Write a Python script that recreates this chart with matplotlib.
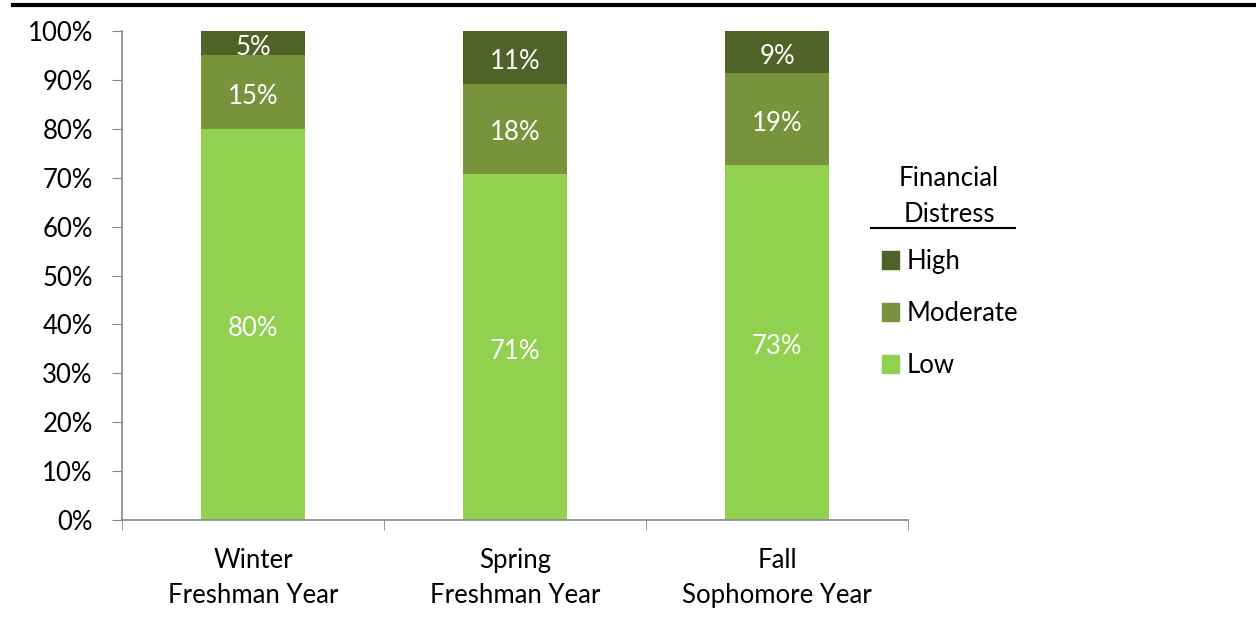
import matplotlib
matplotlib.use("Agg")
import matplotlib.pyplot as plt
from matplotlib.lines import Line2D
from matplotlib.patches import Patch

categories = ["Winter\nFreshman Year", "Spring\nFreshman Year", "Fall\nSophomore Year"]
low = [80.0, 70.8, 72.6]
moderate = [15.0, 18.4, 18.8]
high = [5.0, 10.8, 8.6]
series_names = ["Low", "Moderate", "High"]
colors = ["#92D050", "#77933C", "#4F6228"]

plt.rcParams["font.family"] = ["Lato", "DejaVu Sans"]
FS = 18.5

fig = plt.figure(figsize=(12.56, 6.24), dpi=100)
ax = fig.add_axes([122 / 1256, 1 - 520 / 624, (908 - 122) / 1256, (520 - 31) / 624])

x = list(range(len(categories)))
w = 0.4
bottom = [0.0] * len(categories)
for name, vals, c in zip(series_names, [low, moderate, high], colors):
    frac = [v / 100 for v in vals]
    bars = ax.bar(x, frac, width=w, bottom=bottom, color=c, label=name)
    for bar, v, b in zip(bars, frac, bottom):
        ax.annotate(f"{v * 100:.0f}%", (bar.get_x() + bar.get_width() / 2, b + v / 2),
                    xytext=(0, -3), textcoords="offset points",
                    ha="center", va="center", color="white", fontsize=FS)
    bottom = [b + v for b, v in zip(bottom, frac)]

ax.set_xlim(-0.5, 2.5)
ax.set_ylim(0, 1)
ax.set_yticks([i / 10 for i in range(11)])
ax.set_yticklabels([f"{i * 10}%" for i in range(11)], fontsize=FS)
ax.set_xticks(x)
ax.set_xticklabels(categories, fontsize=FS, linespacing=1.5)
ax.set_xticks([-0.5, 0.5, 1.5, 2.5], minor=True)
ax.tick_params(axis="x", which="major", length=0, pad=20)
ax.tick_params(axis="x", which="minor", length=7, color="#868686", direction="out")
ax.tick_params(axis="y", length=7, color="#868686", pad=14)
for s in ["top", "right"]:
    ax.spines[s].set_visible(False)
for s in ["left", "bottom"]:
    ax.spines[s].set_color("#868686")
    ax.spines[s].set_linewidth(1.2)

handles = [Patch(color=colors[i], label=series_names[i]) for i in [2, 1, 0]]
fig.legend(handles=handles, loc="upper left", bbox_to_anchor=(882 / 1256, 1 - 249 / 624),
           frameon=False, fontsize=FS, handlelength=0.65, handleheight=0.65,
           handletextpad=0.3, labelspacing=1.05, borderaxespad=0, borderpad=0)

fig.text(949 / 1256, 1 - 197 / 624, "Financial\nDistress", ha="center", va="center",
         fontsize=FS, linespacing=1.55)
fig.add_artist(Line2D([871 / 1256, 1015 / 1256], [1 - 228 / 624] * 2, color="black", lw=1.5))
fig.add_artist(Line2D([13 / 1256, 1.0], [1 - 5 / 624] * 2, color="black", lw=3))

fig.savefig("out.png", dpi=100)
